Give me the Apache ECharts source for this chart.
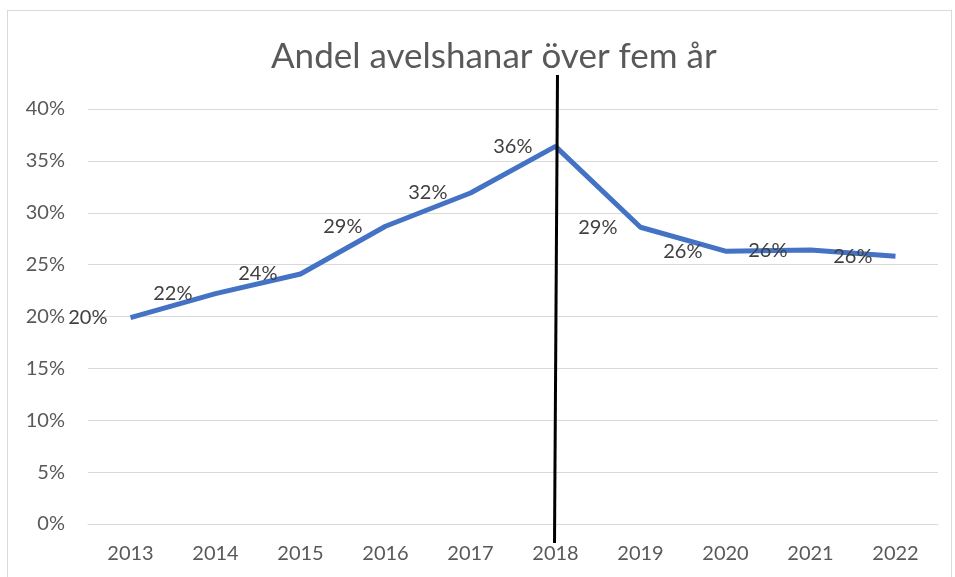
<!DOCTYPE html>
<html>
<head>
<meta charset="utf-8">
<script src="https://cdn.jsdelivr.net/npm/echarts@6/dist/echarts.min.js"></script>
<style>
  html, body { margin: 0; padding: 0; background: #fff; }
  #frame { position: absolute; left: 7px; top: 10px; width: 945px; height: 580px; border: 1px solid #d9d9d9; box-sizing: border-box; }
  #main { position: absolute; left: 0; top: 0; width: 955px; height: 577px; }
</style>
</head>
<body>
<div id="frame"></div>
<div id="main"></div>
<script>
var years = ['2013', '2014', '2015', '2016', '2017', '2018', '2019', '2020', '2021', '2022']
var andel = [19.9, 22.2, 24.1, 28.7, 31.9, 36.4, 28.6, 26.3, 26.4, 25.8]
var markYear = '2018'

var font = 'Lato, "Liberation Sans", sans-serif'
var myChart = echarts.init(document.getElementById('main'))

var option = {
  animation: false,
  title: {
    text: 'Andel avelshanar över fem år',
    left: 266,
    top: 34,
    textStyle: { fontFamily: font, fontSize: 35, fontWeight: 'normal', color: '#595959' },
  },
  grid: { left: 88, right: 17, top: 109, bottom: 53 },
  xAxis: {
    type: 'category',
    data: years,
    axisLine: { lineStyle: { color: '#d9d9d9', width: 1 } },
    axisTick: { show: false },
    axisLabel: { color: '#595959', fontFamily: font, fontSize: 20, margin: 20 },
  },
  yAxis: {
    type: 'value',
    min: 0,
    max: 40,
    interval: 5,
    axisLabel: { formatter: '{value}%', color: '#595959', fontFamily: font, fontSize: 20, margin: 23 },
    splitLine: { lineStyle: { color: '#d9d9d9', width: 1 } },
  },
  series: [
    {
      type: 'line',
      data: andel,
      symbol: 'circle',
      symbolSize: 2,
      showSymbol: true,
      itemStyle: { color: 'rgba(0,0,0,0)', borderWidth: 0 },
      lineStyle: { color: '#4472c4', width: 5 },
      label: {
        show: true,
        position: 'left',
        distance: 22,
        color: '#404040',
        fontFamily: font,
        fontSize: 20,
        formatter: function (p) { return Math.round(p.value) + '%' },
      },
    },
  ],
}

myChart.setOption(option)

// svart markering vid 2018
var x = myChart.convertToPixel({ xAxisIndex: 0 }, markYear)
myChart.setOption({
  graphic: [
    {
      type: 'line',
      shape: { x1: x + 2, y1: 75, x2: x - 1, y2: 543 },
      style: { stroke: '#000', lineWidth: 3 },
      z: 100,
    },
  ],
})
</script>
</body>
</html>
